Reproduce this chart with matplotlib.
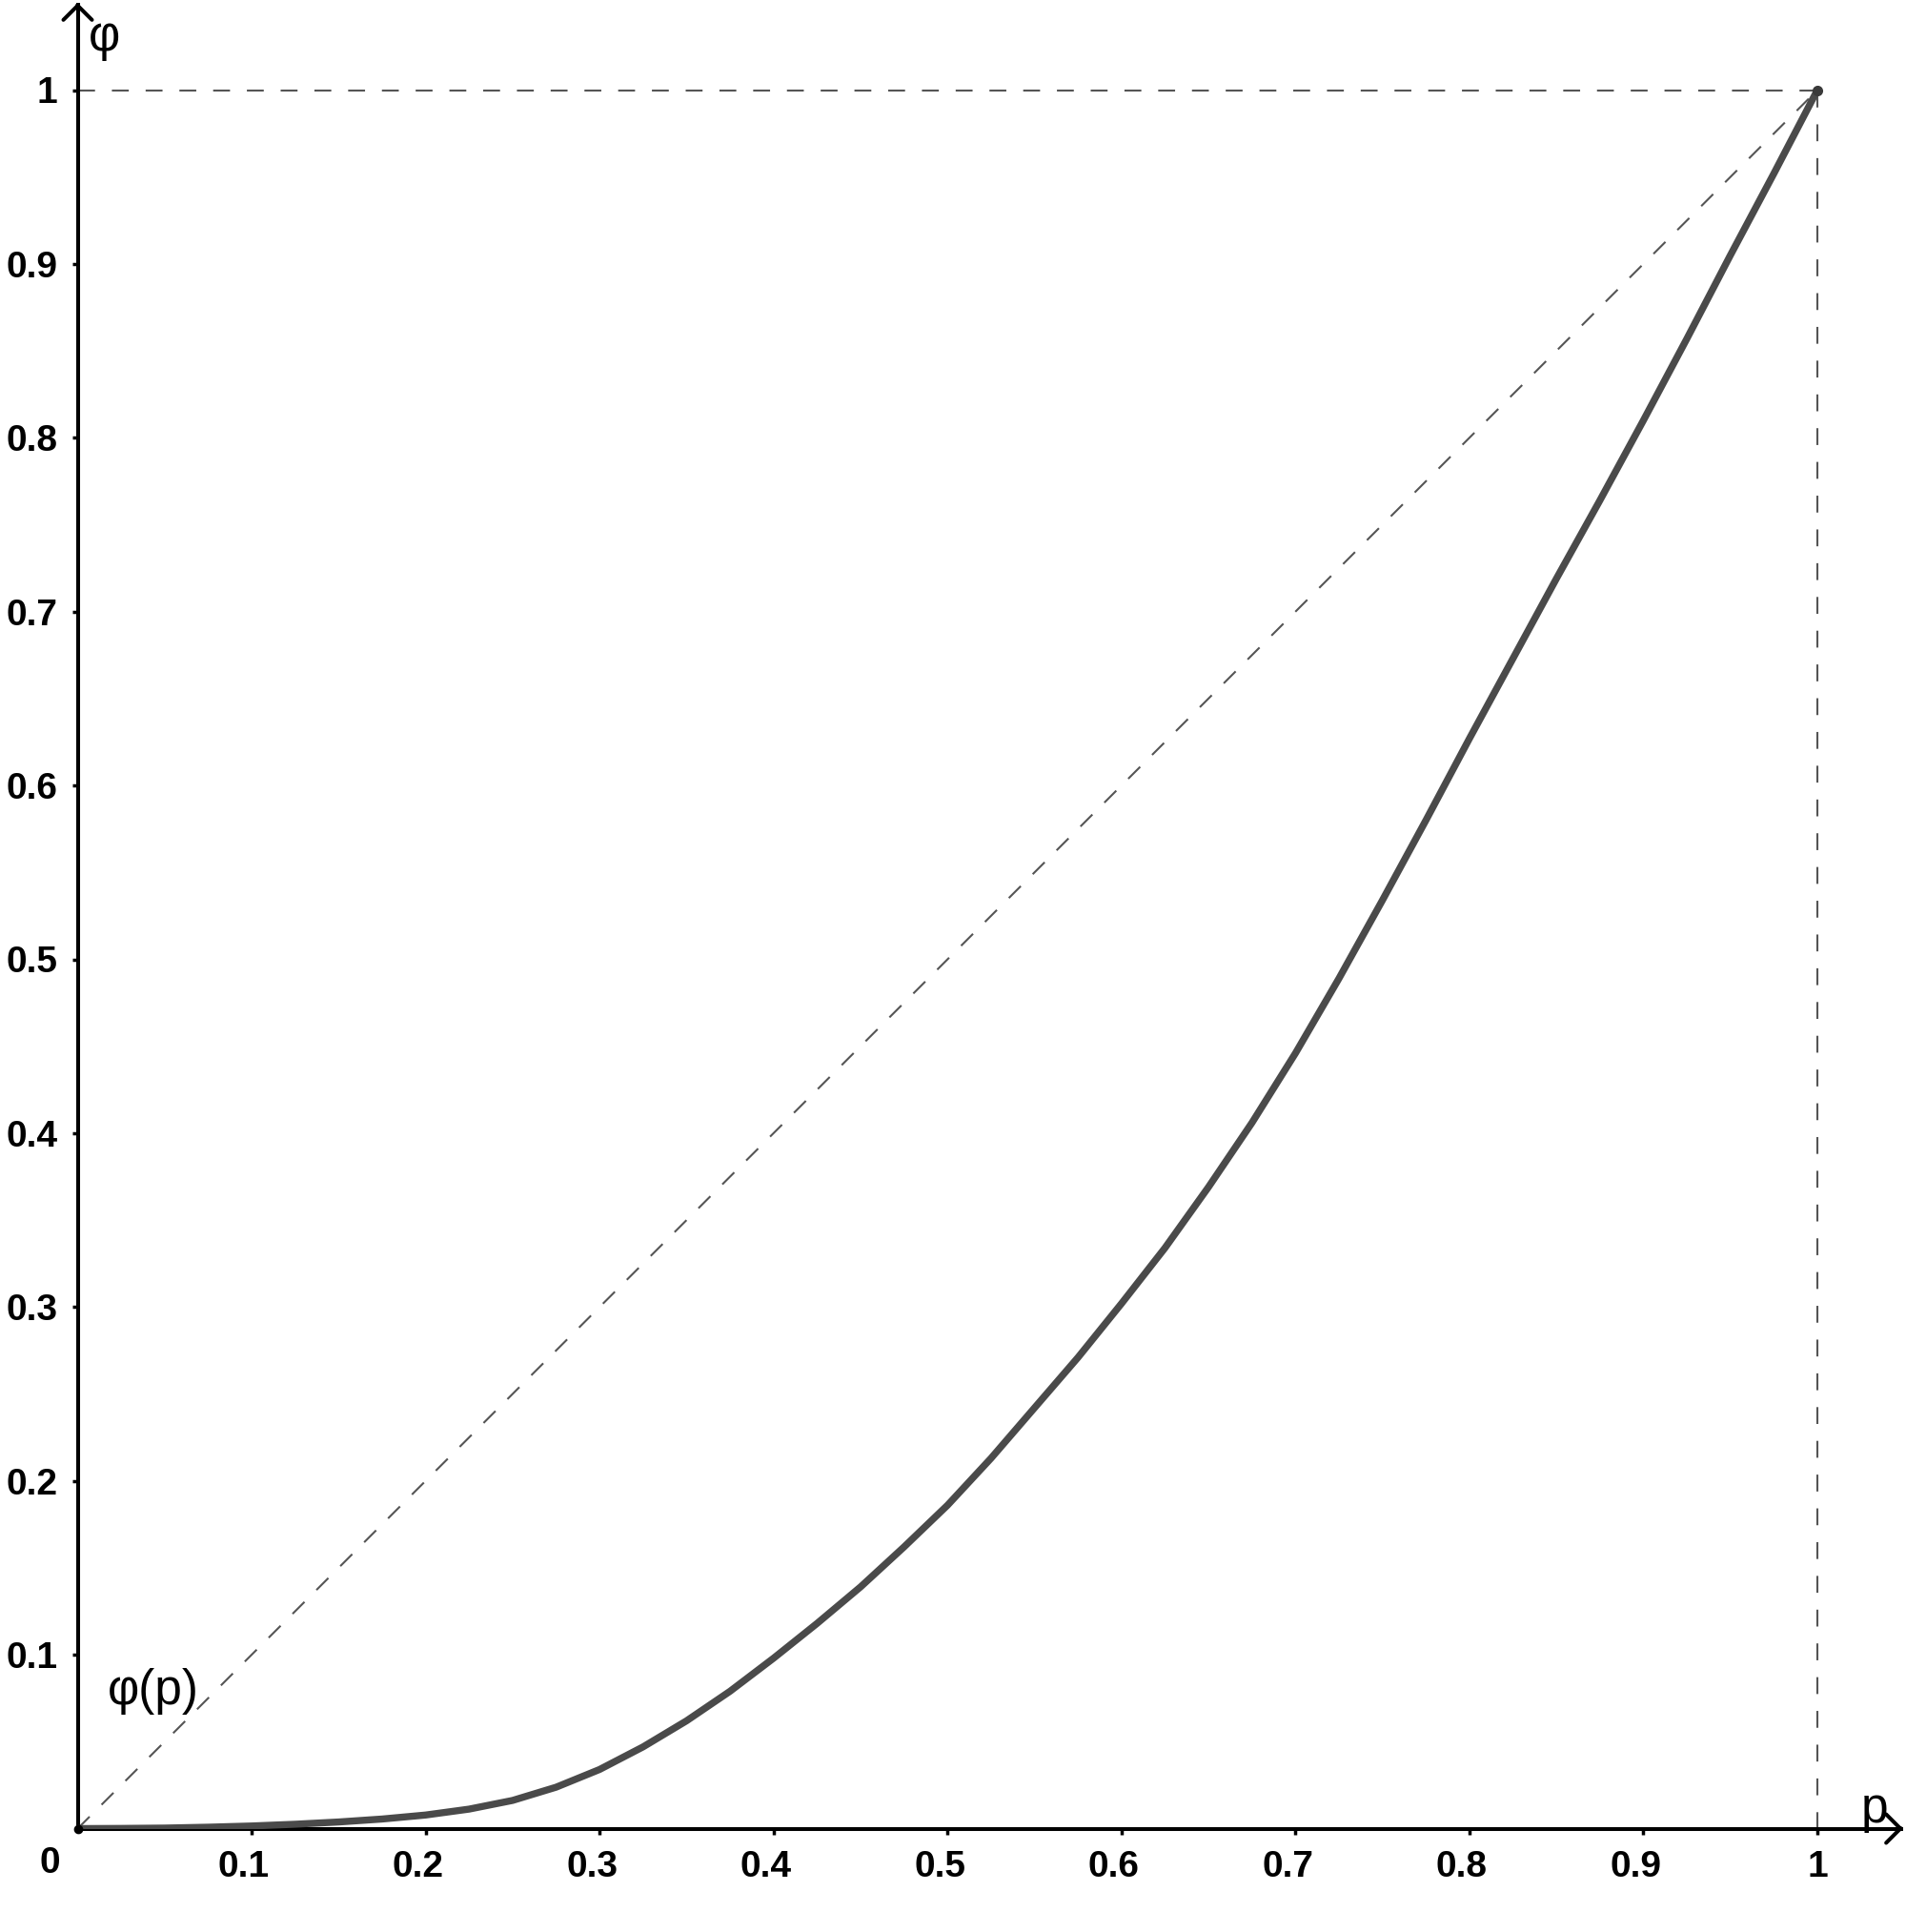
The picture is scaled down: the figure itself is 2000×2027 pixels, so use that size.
import matplotlib
matplotlib.use("Agg")
import matplotlib.pyplot as plt
import matplotlib.transforms as mtransforms

# ---- data ----
p_vals = [0.0, 0.025, 0.05, 0.075, 0.1, 0.125, 0.15, 0.175, 0.2, 0.225,
          0.25, 0.275, 0.3, 0.325, 0.35, 0.375, 0.4, 0.425, 0.45, 0.475,
          0.5, 0.525, 0.55, 0.575, 0.6, 0.625, 0.65, 0.675, 0.7, 0.725,
          0.75, 0.775, 0.8, 0.825, 0.85, 0.875, 0.9, 0.925, 0.95, 0.975, 1.0]
phi_vals = [0.0, 0.0001, 0.0003, 0.0008, 0.0015, 0.0025, 0.0038, 0.0055, 0.0078, 0.0112,
            0.0162, 0.0238, 0.034, 0.047, 0.062, 0.079, 0.098, 0.118, 0.139, 0.162,
            0.186, 0.213, 0.242, 0.271, 0.302, 0.334, 0.369, 0.406, 0.446, 0.489,
            0.534, 0.580, 0.627, 0.673, 0.719, 0.764, 0.810, 0.857, 0.905, 0.952, 1.0]
xtick_vals = [0.1, 0.2, 0.3, 0.4, 0.5, 0.6, 0.7, 0.8, 0.9, 1.0]
xtick_labels = ["0.1", "0.2", "0.3", "0.4", "0.5", "0.6", "0.7", "0.8", "0.9", "1"]
ytick_vals = [0.1, 0.2, 0.3, 0.4, 0.5, 0.6, 0.7, 0.8, 0.9, 1.0]
ytick_labels = ["0.1", "0.2", "0.3", "0.4", "0.5", "0.6", "0.7", "0.8", "0.9", "1"]
diag_p = [0.0, 1.0]
diag_phi = [0.0, 1.0]

plt.rcParams['font.family'] = ['Liberation Sans', 'DejaVu Sans']

W, H = 2000, 2027
fig = plt.figure(figsize=(W / 100, H / 100), dpi=100)
x0, y0 = 81.5, 1918.5
ux, uy = 1825.5, 1824.0
xmax = (1997 - x0) / ux
ymax = (y0 - 3) / uy
ax = fig.add_axes([x0 / W, (H - y0) / H, (xmax * ux) / W, (ymax * uy) / H])
ax.set_xlim(0, xmax)
ax.set_ylim(0, ymax)

for s in ["top", "right"]:
    ax.spines[s].set_visible(False)
for s in ["left", "bottom"]:
    ax.spines[s].set_linewidth(2.9)
    ax.spines[s].set_color("black")
    ax.spines[s].set_capstyle("butt")

# reference dashed lines
dash_kw = dict(color="#555555", lw=1.5, dashes=(8.5, 8.5), zorder=2)
ax.plot(diag_p, diag_phi, **dash_kw)
ax.plot([0, 1], [1, 1], **dash_kw)
ax.plot([1, 1], [0, 1], **dash_kw)

# main curve
ax.plot(p_vals, phi_vals, color="#4a4a4a", lw=5.3, solid_capstyle="round",
        solid_joinstyle="round", zorder=3)
ax.plot([1], [1], "o", color="#3a3a3a", ms=7, zorder=4)
ax.plot([0], [0], "o", color="black", ms=6, zorder=4, clip_on=False)

# ticks
ax.set_xticks(xtick_vals)
ax.set_xticklabels(xtick_labels, fontsize=28, fontweight="bold")
ax.set_yticks(ytick_vals)
ax.set_yticklabels(ytick_labels, fontsize=28, fontweight="bold")
ax.tick_params(axis="x", direction="out", length=4, width=2.5, pad=12)
ax.tick_params(axis="y", direction="out", length=4, width=2.5, pad=11)
shift = mtransforms.ScaledTranslation(-8 / 100, 0, fig.dpi_scale_trans)
for lbl in ax.get_xticklabels():
    if lbl.get_text() != "1":
        lbl.set_transform(lbl.get_transform() + shift)

# origin label
ax.text(-0.016, -0.020, "0", fontsize=28, fontweight="bold", ha="center", va="center")

# arrowheads (heads only)
arrow_kw = dict(arrowstyle="->,head_length=0.4,head_width=0.4", lw=2.9, color="black",
                mutation_scale=27, shrinkA=0, shrinkB=0)
ax.annotate("", xy=(0, ymax), xytext=(0, ymax - 0.002), arrowprops=arrow_kw,
            annotation_clip=False)
ax.annotate("", xy=(xmax, 0), xytext=(xmax - 0.002, 0), arrowprops=arrow_kw,
            annotation_clip=False)

# axis labels
ax.text(0.0063, 1.0228, "φ", fontsize=37, ha="left", va="baseline")
ax.text(1.025, 0.0036, "p", fontsize=37, ha="left", va="baseline")
ax.text(0.017, 0.0715, "φ(p)", fontsize=37, ha="left", va="baseline")

fig.savefig("out.png", dpi=100, facecolor="white")
